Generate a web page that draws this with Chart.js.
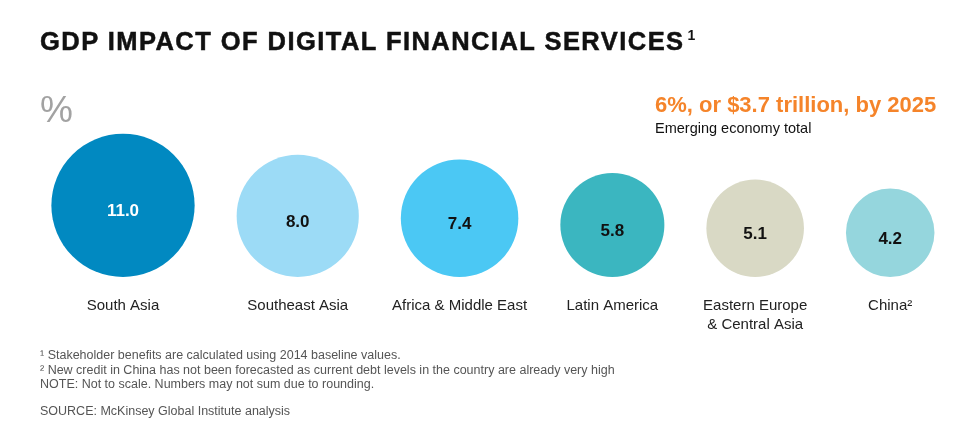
<!DOCTYPE html>
<html><head><meta charset="utf-8">
<script src="https://cdn.jsdelivr.net/npm/chart.js@4"></script>
<style>
html,body{margin:0;padding:0;background:#fff;width:975px;height:437px;overflow:hidden;}
#wrap{position:relative;width:975px;height:437px;}
canvas{position:absolute;left:0;top:0;}
.t{position:absolute;white-space:nowrap;font-family:"Liberation Sans",Arial,sans-serif;line-height:1;margin:0;}
#title{left:40px;font-size:25.5px;font-weight:bold;color:#111;letter-spacing:1.45px;top:29px;-webkit-text-stroke:0.5px #111;}
#title .sup{font-size:14px;position:relative;top:-10px;letter-spacing:0;margin-left:3px;-webkit-text-stroke:0;}
#pct{left:40px;top:91px;font-size:37px;color:#a2a2a2;}
#hl{left:655px;top:94px;font-size:22px;font-weight:bold;color:#F5842A;}
#sub{left:655px;top:121px;font-size:14.5px;color:#111;}
.fn{left:40px;font-size:12.5px;color:#555;}
</style></head><body>
<div id="wrap">
<canvas id="c" width="975" height="437"></canvas>
<div class="t" id="title">GDP IMPACT OF DIGITAL FINANCIAL SERVICES<span class="sup">1</span></div>
<div class="t" id="pct">%</div>
<div class="t" id="hl">6%, or $3.7 trillion, by 2025</div>
<div class="t" id="sub">Emerging economy total</div>
<div class="t fn" style="top:349px">¹ Stakeholder benefits are calculated using 2014 baseline values.</div>
<div class="t fn" style="top:363.5px">² New credit in China has not been forecasted as current debt levels in the country are already very high</div>
<div class="t fn" style="top:378px">NOTE: Not to scale. Numbers may not sum due to rounding.</div>
<div class="t fn" style="top:404.5px">SOURCE: McKinsey Global Institute analysis</div>
</div>
<script>
// ---- data ----
const categories = ['South Asia', 'Southeast Asia', 'Africa & Middle East', 'Latin America', ['Eastern Europe', '& Central Asia'], 'China²'];
const gdpImpact = [11.0, 8.0, 7.4, 5.8, 5.1, 4.2];
const valueLabels = ['11.0', '8.0', '7.4', '5.8', '5.1', '4.2'];

// ---- styles ----
const colors = ['#0189C1', '#9CDBF6', '#4BC8F4', '#3BB6C0', '#D9D9C5', '#95D6DD'];
const labelColors = ['#ffffff', '#111111', '#111111', '#111111', '#111111', '#111111'];

// ---- layout ----
const W = 975, H = 437, BASE = 277, FIRST_X = 123, GAP = 42, K = 21.6;
const radii = gdpImpact.map(v => K * Math.sqrt(v));
const xs = [];
radii.forEach((r, i) => { xs.push(i === 0 ? FIRST_X : xs[i - 1] + radii[i - 1] + GAP + r); });
const points = gdpImpact.map((v, i) => ({ x: xs[i], y: H - (BASE - radii[i]), r: radii[i] }));

const labelPlugin = {
  id: 'bubbleLabels',
  afterDatasetsDraw(chart) {
    const ctx = chart.ctx;
    const meta = chart.getDatasetMeta(0);
    meta.data.forEach((el, i) => {
      const x = el.x, y = el.y, r = el.options.radius;
      ctx.save();
      ctx.textAlign = 'center';
      ctx.textBaseline = 'alphabetic';
      ctx.font = 'bold 17px "Liberation Sans", Arial, sans-serif';
      ctx.fillStyle = labelColors[i];
      ctx.fillText(valueLabels[i], x, y + 11);
      ctx.font = '15px "Liberation Sans", Arial, sans-serif';
      ctx.fillStyle = '#222';
      const lines = Array.isArray(categories[i]) ? categories[i] : [categories[i]];
      lines.forEach((ln, j) => ctx.fillText(ln, x, y + r + 33 + j * 18.5));
      ctx.restore();
    });
  }
};

new Chart(document.getElementById('c'), {
  type: 'bubble',
  data: {
    labels: categories,
    datasets: [{
      data: points,
      backgroundColor: colors,
      borderWidth: 0,
      hoverRadius: 0,
      clip: false
    }]
  },
  options: {
    responsive: false,
    animation: false,
    events: [],
    layout: { padding: 0, autoPadding: false },
    plugins: { legend: { display: false }, tooltip: { enabled: false } },
    scales: {
      x: { type: 'linear', display: false, min: 0, max: W },
      y: { type: 'linear', display: false, min: 0, max: H }
    }
  },
  plugins: [labelPlugin]
});
</script>
</body></html>
